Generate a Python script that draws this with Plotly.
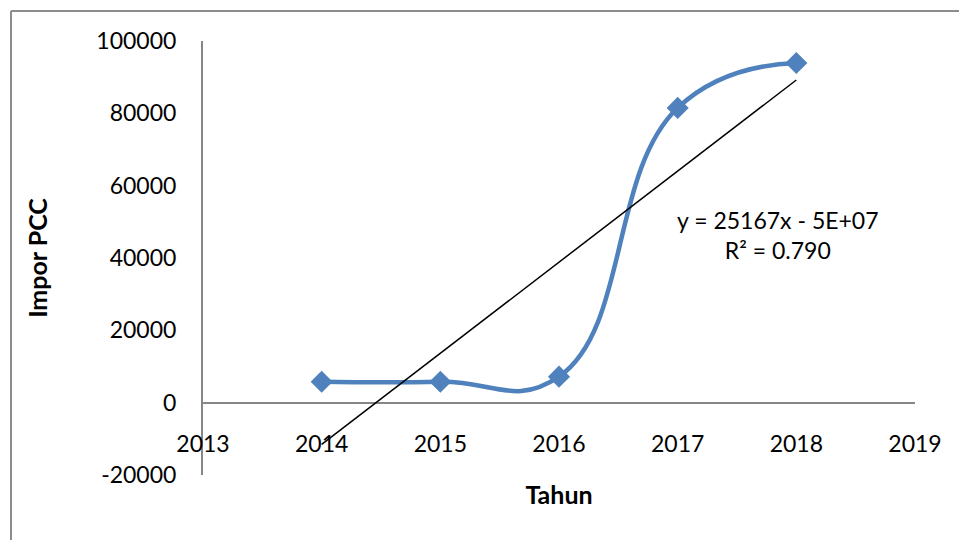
import numpy as np
import plotly.graph_objects as go

years = [2014, 2015, 2016, 2017, 2018]
impor_pcc = [5800, 5800, 7200, 81500, 93900]
x_ticks = [2013, 2014, 2015, 2016, 2017, 2018, 2019]
y_ticks = [-20000, 0, 20000, 40000, 60000, 80000, 100000]
trend_label = "y = 25167x - 5E+07<br>R² = 0.790"

FONT = "Lato"
W, H = 959, 540
L, R, T, B = 203, 44, 41, 65

slope, intercept = np.polyfit(years, impor_pcc, 1)
trend_x = [years[0], years[-1]]
trend_y = [slope * v + intercept for v in trend_x]

fig = go.Figure()
fig.add_trace(go.Scatter(
    x=years, y=impor_pcc, mode="lines+markers",
    line=dict(color="#4F81BD", width=4.5, shape="spline", smoothing=1.3),
    marker=dict(symbol="diamond", size=17, color="#4F81BD"),
    showlegend=False, hoverinfo="x+y"))
fig.add_trace(go.Scatter(
    x=trend_x, y=trend_y, mode="lines",
    line=dict(color="black", width=1.5), showlegend=False))

pw = W - L - R
ph = H - T - B
def px_x(p):
    return (p - L) / pw
def px_y(p):
    return (H - B - p) / ph

fig.update_layout(
    width=W, height=H,
    margin=dict(l=L, r=R, t=T, b=B),
    paper_bgcolor="white", plot_bgcolor="white",
    font=dict(family=FONT, size=23, color="black"),
    xaxis=dict(range=[2013, 2019], tickvals=x_ticks, ticktext=[str(v) for v in x_ticks],
               showgrid=False, zeroline=False, showline=False, ticks="",
               anchor="free", position=px_y(428),
               title=dict(text="<b>Tahun</b>", font=dict(size=25), standoff=30)),
    yaxis=dict(range=[-20000, 100000], tickvals=y_ticks, ticktext=[str(v) for v in y_ticks],
               showgrid=False, zeroline=True, zerolinecolor="#868686", zerolinewidth=2,
               showline=True, linecolor="#868686", linewidth=2, ticks="",
               ticklabelstandoff=20,
               title=dict(text="<b>Impor PCC</b>", font=dict(size=25), standoff=42)),
    annotations=[dict(xref="paper", yref="paper", x=px_x(778), y=px_y(235),
                      xanchor="center", yanchor="middle",
                      text=trend_label, showarrow=False, align="center",
                      font=dict(size=23))],
    shapes=[
        dict(type="line", xref="paper", yref="paper", x0=px_x(11), x1=px_x(959),
             y0=px_y(11), y1=px_y(11), line=dict(color="#8C8C8C", width=2)),
        dict(type="line", xref="paper", yref="paper", x0=px_x(11), x1=px_x(11),
             y0=px_y(11), y1=px_y(540), line=dict(color="#8C8C8C", width=2)),
    ],
)

fig.write_html("out.html", config={"displayModeBar": False},
               post_script="document.body.style.margin='0';")
